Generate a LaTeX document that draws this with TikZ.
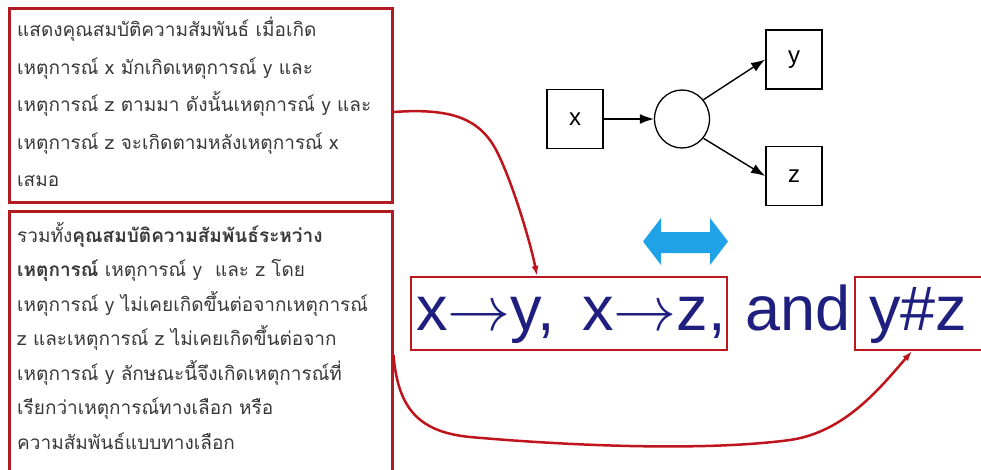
\documentclass[tikz,border=0pt]{standalone}
\usepackage{fix-cm}
\usepackage{fontspec}
\setmainfont{Liberation Sans}
\newfontfamily\thai[Script=Thai]{Loma}
\newcommand{\rarr}{\ensuremath{\rightarrow}}
\usetikzlibrary{arrows.meta,calc,shapes.geometric}
\definecolor{boxred}{HTML}{B01C22}
\definecolor{curvered}{HTML}{C0141C}
\definecolor{navy}{HTML}{1F1F80}
\definecolor{thaigray}{HTML}{383838}
\definecolor{skyblue}{HTML}{1FA2E8}
\tikzset{
  bigbox/.style={draw=boxred, line width=3pt, inner sep=0pt},
  exprbox/.style={draw=boxred!85!red, line width=2.3pt, inner sep=0pt},
  thaitext/.style={anchor=base west, inner sep=0pt, text=thaigray, font=\thai\fontsize{19}{24}\selectfont},
  bigtext/.style={anchor=base west, inner sep=0pt, text=navy, font=\fontsize{63}{70}\selectfont},
  evbox/.style={draw, line width=1.8pt, minimum width=56pt, minimum height=59pt, inner sep=0pt, font=\fontsize{24}{28}\selectfont},
  evcirc/.style={draw, line width=1.3pt, ellipse, minimum width=55pt, minimum height=58pt, inner sep=0pt},
  flow/.style={line width=1.4pt, -{Latex[length=14pt,width=10pt]}},
  link/.style={draw=curvered, line width=2.5pt, -{Latex[length=10pt,width=7pt]}}
}
\begin{document}
\begin{tikzpicture}[x=1pt,y=-1pt]
\useasboundingbox (0,0) rectangle (981,470);
\begin{scope}
\clip (0,0) rectangle (981,470);
% text boxes
\node[bigbox, minimum width=383pt, minimum height=194pt] (b1) at (200.5,106) {};
\node[bigbox, minimum width=383pt, minimum height=270pt] (b2) at (200.5,347) {};
\foreach \yy/\tx [count=\i] in {
  37/{แสดงคุณสมบัติความสัมพันธ์ เมื่อเกิด},
  74.5/{เหตุการณ์ x มักเกิดเหตุการณ์ y และ},
  112/{เหตุการณ์ z ตามมา ดังนั้นเหตุการณ์ y และ},
  149.5/{เหตุการณ์ z จะเกิดตามหลังเหตุการณ์ x},
  187/{เสมอ}}
  \node[thaitext] (p\i) at (17,\yy) {\tx};
\foreach \yy/\tx [count=\i] in {
  242/{รวมทั้ง\textbf{คุณสมบัติความสัมพันธ์ระหว่าง}},
  276.5/{\textbf{เหตุการณ์} เหตุการณ์ y\ \ และ z โดย},
  311/{เหตุการณ์ y ไม่เคยเกิดขึ้นต่อจากเหตุการณ์},
  345.5/{z และเหตุการณ์ z ไม่เคยเกิดขึ้นต่อจาก},
  380/{เหตุการณ์ y ลักษณะนี้จึงเกิดเหตุการณ์ที่},
  414.5/{เรียกว่าเหตุการณ์ทางเลือก หรือ},
  449/{ความสัมพันธ์แบบทางเลือก}}
  \node[thaitext] (q\i) at (17,\yy) {\tx};

% event diagram
\node[evbox] (x) at (575,119) {x};
\node[evcirc] (c) at (682,119) {};
\node[evbox] (y) at (794,59.5) {y};
\node[evbox] (z) at (794,176) {z};
\draw[flow] (x.east) -- (c.west);
\draw[flow] (c.42) -- (y.west);
\draw[flow] (c.-42) -- (z.west);

% blue double arrow
\fill[skyblue] (643,241.5) -- (661,218) -- (661,232) -- (710,232) -- (710,218)
  -- (728,241.5) -- (710,265) -- (710,253) -- (661,253) -- (661,265) -- cycle;

% expression
\node[exprbox, minimum width=316pt, minimum height=73pt] (e1) at (569,313.5) {};
\node[exprbox, minimum width=160pt, minimum height=73pt] (e2) at (935,313.5) {};
\node[bigtext] (t1) at (416,330) {x\rarr y,\hspace{27pt}x\rarr z,};
\node[bigtext] (t2) at (745,330) {and};
\node[bigtext] (t3) at (869,330) {y\#z};

% red connectors
\draw[link] ($(b1.east)+(0,6)$) .. controls (450,108) and (478,118) .. (495,148)
  .. controls (510,175) and (530,240) .. (e1.north -| 537,0);
\draw[link] ($(b2.east)+(0,8)$) .. controls (398,410) and (420,432) .. (470,437)
  .. controls (560,445) and (700,452) .. (790,440)
  .. controls (845,432) and (880,388) .. (e2.south -| 912,0);
\end{scope}
\end{tikzpicture}
\end{document}
